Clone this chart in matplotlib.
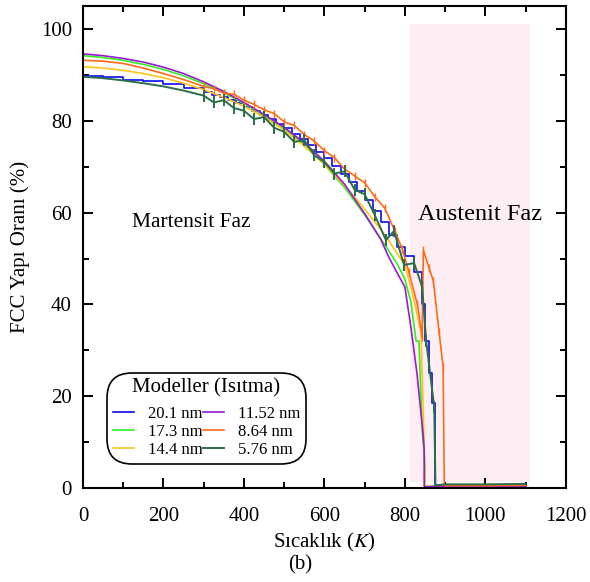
import numpy as np
import matplotlib
matplotlib.use('Agg')
import matplotlib.pyplot as plt

plt.rcParams['font.family'] = ['Liberation Serif', 'DejaVu Serif']
plt.rcParams['mathtext.fontset'] = 'stix'

# 20.1 nm
T_blue = [0, 50, 100, 150, 200, 250, 300, 320, 340, 360, 380, 400, 420, 440, 460, 480, 500, 520, 540,
          560, 580, 600, 620, 640, 660, 680, 700, 720, 740, 760, 780, 800, 823, 843, 850, 860, 868, 876,
          876, 950, 1000, 1100]
v_blue = [89.8, 89.5, 89.0, 88.6, 88.0, 87.2, 86.2, 85.7, 85.1, 84.5, 83.8, 83.0, 82.2, 81.3, 80.4,
          79.4, 78.4, 77.2, 76.0, 74.7, 73.3, 71.8, 70.2, 68.5, 66.7, 64.8, 62.7, 60.4, 58.0, 55.2,
          52.5, 50.5, 47.0, 40.0, 32.0, 25.0, 18.5, 17.0, 0.3, 0.4, 0.5, 0.5]

# 17.3 nm
T_green = [0, 50, 100, 150, 200, 250, 300, 350, 400, 450, 500, 550, 600, 650, 700, 750, 780, 800, 815,
           828, 835, 843, 850, 850, 900, 1000, 1100]
v_green = [94.2, 93.8, 93.2, 92.3, 91.2, 89.8, 88.1, 86.1, 83.8, 81.2, 78.3, 74.8, 70.5, 65.5, 59.5,
           53.0, 49.0, 45.5, 40.5, 32.0, 32.0, 12.6, 5.0, 0.3, 0.4, 0.4, 0.4]

# 14.4 nm
T_gold = [0, 50, 100, 150, 200, 250, 300, 350, 400, 450, 500, 550, 600, 650, 700, 750, 800, 820, 840,
          848, 850, 850, 900, 1000, 1100]
v_gold = [91.8, 91.5, 91.0, 90.3, 89.4, 88.2, 86.8, 85.1, 83.2, 80.8, 78.0, 74.5, 70.5, 66.0, 60.8,
          55.2, 48.5, 42.0, 34.0, 9.0, 3.0, 0.3, 0.4, 0.4, 0.4]

# 11.52 nm
T_purple = [0, 50, 100, 150, 200, 250, 300, 350, 400, 450, 500, 550, 600, 650, 700, 740, 760, 780, 800,
            815, 830, 845, 848, 848, 900, 1000, 1100]
v_purple = [94.6, 94.2, 93.6, 92.8, 91.7, 90.3, 88.5, 86.4, 84.0, 81.4, 78.6, 75.2, 71.2, 66.2, 59.8,
            54.2, 50.3, 47.0, 43.8, 35.0, 25.0, 12.0, 8.3, 0.3, 0.4, 0.4, 0.4]

# 8.64 nm
T_orange = [0, 50, 100, 150, 200, 250, 300, 325, 350, 375, 400, 425, 450, 475, 500, 525, 550, 575, 600,
            625, 650, 675, 700, 725, 750, 775, 794, 810, 831, 843, 846, 860, 871, 885, 895, 898, 950,
            1000, 1100]
v_orange = [93.2, 93.0, 92.5, 91.5, 90.3, 89.0, 87.5, 87.0, 86.0, 85.8, 84.5, 83.6, 82.4, 81.6, 79.8,
            79.0, 77.0, 75.6, 73.5, 72.0, 69.5, 68.0, 66.5, 63.5, 61.0, 56.0, 52.0, 47.0, 40.0, 33.0,
            51.8, 48.0, 45.0, 34.0, 26.4, 0.5, 0.5, 0.5, 0.6]

# 5.76 nm
T_dgreen = [0, 50, 100, 150, 200, 250, 300, 325, 350, 375, 400, 425, 450, 475, 500, 525, 550, 575, 600,
            625, 650, 675, 700, 725, 753, 773, 798, 823, 843, 853, 873, 876, 900, 1000, 1100]
v_dgreen = [89.6, 89.3, 88.8, 88.2, 87.5, 86.6, 85.5, 84.0, 84.5, 82.8, 82.2, 80.4, 80.8, 78.5, 77.6,
            75.4, 75.8, 72.5, 71.0, 68.5, 69.0, 65.0, 64.0, 59.5, 54.0, 56.0, 48.6, 49.0, 43.8, 32.0,
            17.6, 0.6, 0.8, 0.8, 0.9]

fig = plt.figure(figsize=(5.9, 5.82), dpi=100)
ax = fig.add_axes([0.1407, 0.1615, 0.8183, 0.828])

# austenite region
ax.fill_between([812, 1111], 1.4, 101, color='#fdeef4', lw=0, zorder=0)

ax.plot(T_blue, v_blue, color='#0a0af0', lw=1.2, drawstyle='steps-post', label='20.1 nm')
ax.plot(T_green, v_green, color='#33ee22', lw=1.2, label='17.3 nm')
ax.plot(T_gold, v_gold, color='#ffc41a', lw=1.2, label='14.4 nm')
ax.plot(T_purple, v_purple, color='#9a1ad2', lw=1.2, label='11.52 nm')
ax.plot(T_orange, v_orange, color='#ff6a1a', lw=1.2, label='8.64 nm')
ax.plot(T_orange[6:-4], v_orange[6:-4], ls='none', marker='|', ms=6, mew=1.0, color='#ff6a1a')
ax.plot(T_dgreen, v_dgreen, color='#2a6e4a', lw=1.4, label='5.76 nm')
ax.plot(T_dgreen[6:-4], v_dgreen[6:-4], ls='none', marker='|', ms=8, mew=1.4, color='#2a6e4a')

ax.set_xlim(0, 1200)
ax.set_ylim(0, 105)
ax.set_xticks(np.arange(0, 1201, 200))
ax.set_xticks(np.arange(0, 1201, 100), minor=True)
ax.set_yticks(np.arange(0, 101, 20))
ax.set_yticks(np.arange(0, 105, 10), minor=True)
ax.tick_params(which='both', direction='in', top=True, right=True, width=1.4, labelsize=15)
ax.tick_params(which='major', length=7)
ax.tick_params(which='minor', length=4)
ax.tick_params(axis='x', pad=14)
ax.tick_params(axis='y', pad=8)
for s in ax.spines.values():
    s.set_linewidth(1.5)

ax.set_xlabel('Sıcaklık ($K$)', fontsize=15, labelpad=3)
ax.set_ylabel('FCC Yapı Oranı (%)', fontsize=15, labelpad=8)
fig.text(0.508, 0.030, '(b)', ha='center', va='center', fontsize=15)

ax.text(268, 57.8, 'Martensit Faz', ha='center', va='center', fontsize=15.5)
ax.text(987, 59.7, 'Austenit Faz', ha='center', va='center', fontsize=17.5)

leg = ax.legend(ncol=2, title='Modeller (Isıtma)', loc='upper left', bbox_to_anchor=(0.053, 0.236),
                fontsize=12, title_fontsize=15, handlelength=1.3, handletextpad=0.8, columnspacing=0.0,
                labelspacing=0.12, borderpad=0.25, borderaxespad=0.0, fancybox=True, framealpha=1,
                edgecolor='black')
leg._legend_box.sep = 6
leg.get_frame().set_linewidth(1.2)
leg.get_frame().set_boxstyle('round,pad=0.1,rounding_size=1.5')

fig.savefig('out.png', dpi=100)
